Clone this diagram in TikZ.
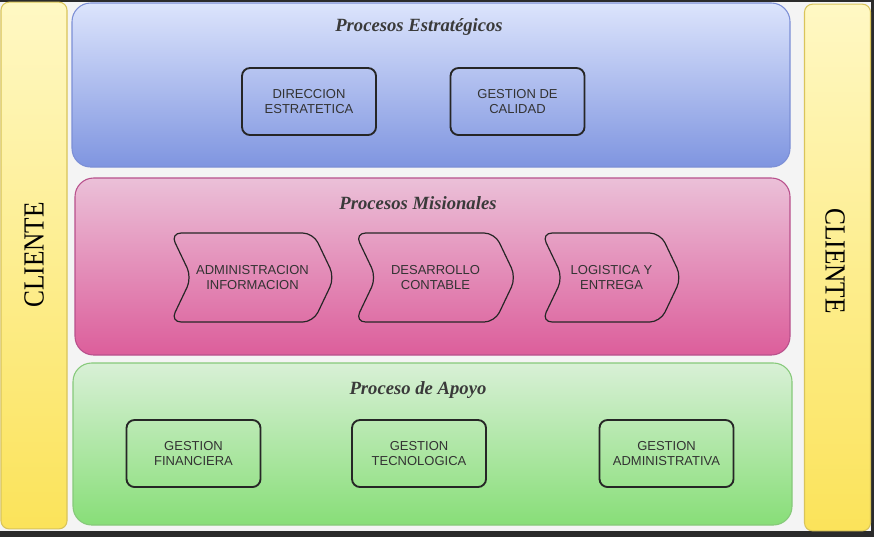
\documentclass[tikz,border=0pt]{standalone}
\usepackage{fontspec}
\setmainfont{Liberation Serif}
\newfontfamily\boxfont{Liberation Sans}
\usetikzlibrary{shapes, shapes.symbols, positioning}

\definecolor{framedark}{HTML}{2B2B2B}
\definecolor{paper}{HTML}{F4F4F4}
\definecolor{inktext}{HTML}{333333}
\definecolor{titletext}{HTML}{3A3A3A}
\definecolor{bluetop}{HTML}{DCE4FC}
\definecolor{bluebot}{HTML}{7F95E0}
\definecolor{blueline}{HTML}{7C8FD6}
\definecolor{pinktop}{HTML}{EBC0D8}
\definecolor{pinkbot}{HTML}{DC5E9B}
\definecolor{pinkline}{HTML}{B8508C}
\definecolor{greentop}{HTML}{D8F0D6}
\definecolor{greenbot}{HTML}{88DE78}
\definecolor{greenline}{HTML}{86C97A}
\definecolor{yellowtop}{HTML}{FFF8C4}
\definecolor{yellowbot}{HTML}{FBE35A}
\definecolor{yellowline}{HTML}{D9C45A}

\begin{document}
\begin{tikzpicture}[
            x = 0.75pt, y = -0.75pt, % pixel grid of the reference
            semithick, % line style
        ]
 \tikzstyle{bandstyle}=[
            shape = rectangle,
            rounded corners = 14pt,
            line width = 0.8pt,
            inner sep = 0pt
        ]
 \tikzstyle{clientstyle}=[
            bandstyle,
            rounded corners = 6pt,
            draw = yellowline,
            top color = yellowtop,
            bottom color = yellowbot,
            minimum width = 49.5pt,
            minimum height = 395pt
        ]
 \tikzstyle{titlestyle}=[
            font = \fontsize{14}{16}\selectfont\bfseries\itshape,
            text = titletext
        ]
 \tikzstyle{boxstyle}=[
            shape = rectangle,
            rounded corners = 6pt,
            draw = black!85,
            line width = 1.4pt,
            align = center,
            font = \boxfont\fontsize{9.75}{11.5}\selectfont,
            text = inktext,
            minimum width = 100.5pt,
            minimum height = 50.25pt
        ]
 \tikzstyle{chevstyle}=[
            boxstyle,
            shape = signal,
            signal from = west,
            signal to = east,
            signal pointer angle = 129,
            rounded corners = 8pt,
            line width = 0.9pt,
            minimum height = 66.75pt
        ]
% background and frame
\fill[framedark] (0,0) rectangle (874,537);
\fill[paper] (0,2) rectangle (871,531);
\useasboundingbox (0,0) rectangle (874,537);

% clients
\node[clientstyle](clienteL) at (34,265.5) {};
\node[rotate=90, font=\fontsize{19}{21}\selectfont, yscale=1.15] at (34,255) {CLIENTE};
\node[clientstyle](clienteR) at (837.5,267.5) {};
\node[rotate=-90, font=\fontsize{19}{21}\selectfont, yscale=1.15] at (835,261) {CLIENTE};

% bands
\node[bandstyle, draw=blueline, top color=bluetop, bottom color=bluebot,
      minimum width=538.5pt, minimum height=123pt](estr) at (431,85) {};
\node[bandstyle, draw=pinkline, top color=pinktop, bottom color=pinkbot,
      minimum width=536.25pt, minimum height=132.75pt](mision) at (432.5,266.5) {};
\node[bandstyle, draw=greenline, top color=greentop, bottom color=greenbot,
      minimum width=539.25pt, minimum height=121.5pt](apoyo) at (432.5,444) {};

\node[titlestyle](tEstr) at (419,27) {Procesos Estratégicos};
\node[titlestyle](tMision) at (418,203) {Procesos Misionales};
\node[titlestyle](tApoyo) at (418,390) {Proceso de Apoyo};

% strategic
\node[boxstyle](direccion) at (309,101.5) {DIRECCION\\ESTRATETICA};
\node[boxstyle](calidad) at (517.5,101.5) {GESTION DE\\CALIDAD};

% missional
\node[chevstyle, minimum width=120.75pt](admin) at (252.5,277.5) {ADMINISTRACION\\INFORMACION};
\node[chevstyle, minimum width=120.75pt](contable) at (435.5,277.5) {DESARROLLO\\CONTABLE};
\node[chevstyle, minimum width=105pt](logistica) at (611.5,277.5) {LOGISTICA Y\\ENTREGA};

% support
\node[boxstyle](financiera) at (193.5,453.5) {GESTION\\FINANCIERA};
\node[boxstyle](tecno) at (419,453.5) {GESTION\\TECNOLOGICA};
\node[boxstyle](administ) at (666.5,453.5) {GESTION\\ADMINISTRATIVA};
\end{tikzpicture}
\end{document}
